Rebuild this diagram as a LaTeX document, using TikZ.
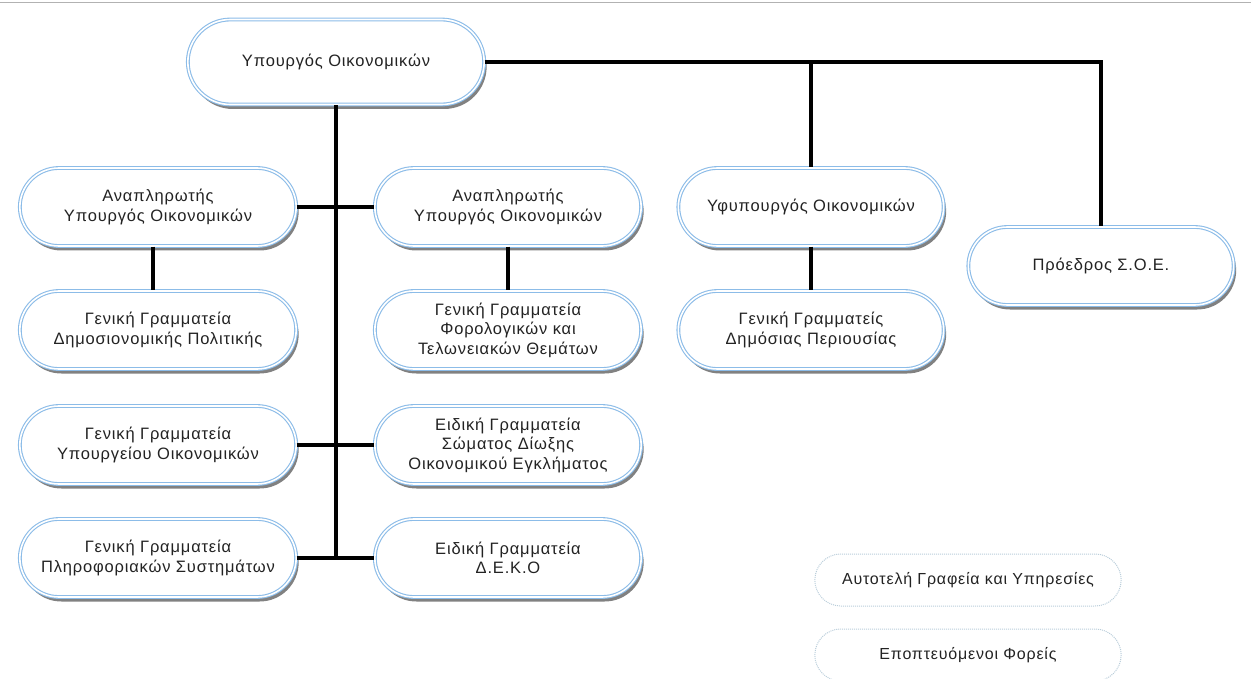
\documentclass[tikz,border=0pt]{standalone}
\usepackage{fontspec}
\setmainfont{Liberation Sans}[LetterSpace=5]
\usetikzlibrary{shapes.misc,shadows}
\definecolor{bord}{RGB}{140,188,232}
\definecolor{dbord}{RGB}{185,205,218}
\definecolor{txt}{RGB}{35,35,35}
\tikzset{
 box/.style={rounded rectangle, draw=bord, double=white, double distance=1.6pt, line width=1.1pt,
   fill=white, minimum height=78pt, minimum width=273pt, align=center, text=txt,
   font=\fontsize{16.5}{19.5}\selectfont,
   drop shadow={shadow xshift=2.5pt, shadow yshift=-4.5pt, fill=black!70, opacity=0.7}},
 dbox/.style={rounded rectangle, draw=dbord, densely dotted, line width=1pt,
   minimum height=52pt, minimum width=313pt, text=txt, font=\fontsize{16}{18}\selectfont},
 conn/.style={line width=3.2pt, black},
}
\begin{document}
\begin{tikzpicture}[x=1pt,y=-1pt]
\useasboundingbox (0,0) rectangle (1251,679);
\draw[gray!60, line width=1pt] (0,3) -- (1251,3);
\coordinate (trunkend) at (336,558);
\node[box, minimum width=303pt, minimum height=85pt] (top) at (336,62) {Υπουργός Οικονομικών};
\node[box, minimum width=283pt] (aa) at (158,207) {Αναπληρωτής\\Υπουργός Οικονομικών};
\node[box] (ab) at (508,207) {Αναπληρωτής\\Υπουργός Οικονομικών};
\node[box, minimum width=272pt] (yf) at (811,207) {Υφυπουργός Οικονομικών};
\node[box, minimum width=272pt] (pr) at (1101,266) {Πρόεδρος Σ.Ο.Ε.};
\node[box, minimum width=283pt] (g1) at (158,330) {Γενική Γραμματεία\\Δημοσιονομικής Πολιτικής};
\node[box] (g2) at (508,330) {Γενική Γραμματεία\\Φορολογικών και\\Τελωνειακών Θεμάτων};
\node[box, minimum width=272pt] (g3) at (811,330) {Γενική Γραμματείς\\Δημόσιας Περιουσίας};
\node[box, minimum width=283pt] (g4) at (158,445) {Γενική Γραμματεία\\Υπουργείου Οικονομικών};
\node[box] (e1) at (508,445) {Ειδική Γραμματεία\\Σώματος Δίωξης\\Οικονομικού Εγκλήματος};
\node[box, minimum width=283pt] (g5) at (158,558) {Γενική Γραμματεία\\Πληροφοριακών Συστημάτων};
\node[box] (e2) at (508,558) {Ειδική Γραμματεία\\Δ.Ε.Κ.Ο};
\node[dbox] (d1) at (968,580) {Αυτοτελή Γραφεία και Υπηρεσίες};
\node[dbox] (d2) at (968,655) {Εποπτευόμενοι Φορείς};
\draw[conn] (top.south) -- (trunkend);
\draw[conn] (aa.east) -- (ab.west);
\draw[conn] (g4.east) -- (e1.west);
\draw[conn] (g5.east) -- (e2.west);
\draw[conn] (top.east) -| (pr.north);
\draw[conn] (top.east -| yf.north) -- (yf.north);
\draw[conn] ([xshift=-5pt]aa.south) -- ([xshift=-5pt]g1.north);
\draw[conn] (ab.south) -- (g2.north);
\draw[conn] (yf.south) -- (g3.north);
\end{tikzpicture}
\end{document}
